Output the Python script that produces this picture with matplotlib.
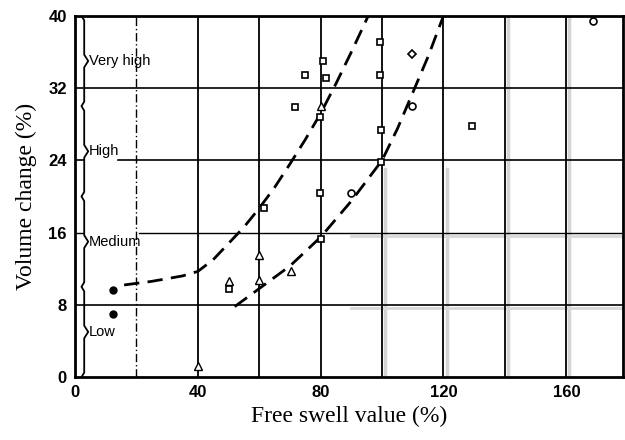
import matplotlib
matplotlib.use("Agg")
import matplotlib.pyplot as plt

# ---- data ----
circles_filled_x = [12.4, 12.4]
circles_filled_y = [9.6, 7.0]

triangles_x = [40, 50, 60, 60, 70.5, 80]
triangles_y = [1.2, 10.6, 13.5, 10.8, 11.7, 30.0]

squares_x = [50, 61.5, 71.7, 75, 80.7, 81.8, 79.8, 79.8, 80, 99.3, 99.3, 99.6, 99.6, 129.3]
squares_y = [9.8, 18.7, 29.9, 33.4, 35.0, 33.1, 28.8, 20.4, 15.3, 37.1, 33.5, 27.4, 23.8, 27.8]

open_circles_x = [89.9, 109.8, 168.7]
open_circles_y = [20.4, 30.0, 39.4]

diamonds_x = [109.8]
diamonds_y = [35.8]

curve1_x = [16, 25, 35, 40, 45, 50, 55, 60, 65, 70, 75, 80, 85, 90, 95.5]
curve1_y = [10.2, 10.6, 11.2, 11.7, 13.0, 14.8, 16.6, 18.7, 21.0, 23.6, 26.3, 29.2, 32.5, 36.0, 40.0]

curve2_x = [52, 60, 70, 80, 90, 100, 105, 110, 115, 120]
curve2_y = [7.8, 9.8, 12.3, 15.5, 19.5, 24.0, 27.5, 31.5, 35.5, 40.0]

x_ticks = [0, 40, 80, 120, 160]
y_ticks = [0, 8, 16, 24, 32, 40]

classes = ["Low", "Medium", "High", "Very high"]
class_bounds = [0, 10, 20, 30, 40]

# ---- figure ----
fig = plt.figure(figsize=(6.25, 4.4), dpi=100)
ax = fig.add_axes([0.12, 0.143, 0.877, 0.821])
ax.set_xlim(0, 178.5)
ax.set_ylim(0, 40)

# scan shadow lines (light gray)
for gx in [101, 121, 141, 161]:
    top = 23 if gx < 130 else 40
    ax.plot([gx, gx], [0, top], color="#d4d4d4", lw=2.5, zorder=0.5)
for gy in [7.6, 15.6]:
    ax.plot([90, 178], [gy, gy], color="#d8d8d8", lw=2, zorder=0.5)

# grid lines
ax.plot([20, 20], [0, 40], color="black", lw=1.0, ls=(0, (6, 2, 1, 2)), zorder=1)
for gx in [40, 60, 80, 100, 120, 140, 160]:
    ax.plot([gx, gx], [0, 40], color="black", lw=1.3, zorder=1)
ax.plot([0, 178.5], [8, 8], color="black", lw=1.2, zorder=1)
ax.plot([21, 178.5], [16, 16], color="black", lw=1.0, zorder=1)
ax.plot([0, 2.5], [16, 16], color="black", lw=1.0, zorder=1)
ax.plot([14, 178.5], [24, 24], color="black", lw=1.2, zorder=1)
ax.plot([0, 2.5], [24, 24], color="black", lw=1.2, zorder=1)
ax.plot([0, 178.5], [32, 32], color="black", lw=1.2, zorder=1)

# braces with class labels
for i, name in enumerate(classes):
    a, b = class_bounds[i], class_bounds[i + 1]
    m = (a + b) / 2
    bx = [2.2, 3.0, 3.0, 4.3, 3.0, 3.0, 2.2]
    by = [a + 0.05, a + 0.5, m - 0.7, m, m + 0.7, b - 0.5, b - 0.05]
    ax.plot(bx, by, color="black", lw=1.3, zorder=2)
    ax.text(4.6, m, name, ha="left", va="center", fontsize=10.5,
            family="Liberation Sans", zorder=3)

# dashed curves
ax.plot(curve1_x, curve1_y, color="black", lw=2.0, ls=(0, (5.5, 3)), zorder=3)
ax.plot(curve2_x, curve2_y, color="black", lw=2.0, ls=(0, (5.5, 3)), zorder=3)

# markers
ax.plot(circles_filled_x, circles_filled_y, "o", color="black", ms=5, zorder=4)
ax.plot(triangles_x, triangles_y, "^", mfc="white", mec="black", mew=1.0, ms=5.5, zorder=4)
ax.plot(squares_x, squares_y, "s", mfc="white", mec="black", mew=1.2, ms=5, zorder=4)
ax.plot(open_circles_x, open_circles_y, "o", mfc="white", mec="black", mew=1.2, ms=5, zorder=4)
ax.plot(diamonds_x, diamonds_y, "D", mfc="white", mec="black", mew=1.2, ms=4.5, zorder=4)

# axes styling
for s in ax.spines.values():
    s.set_linewidth(2.0)
ax.set_xticks(x_ticks)
ax.set_yticks(y_ticks)
ax.tick_params(length=0, pad=6)
for lab in ax.get_xticklabels() + ax.get_yticklabels():
    lab.set_fontfamily("Liberation Sans")
    lab.set_fontweight("bold")
    lab.set_fontsize(12)

ax.set_xlabel("Free swell value (%)", family="Liberation Serif", fontsize=17, labelpad=4)
ax.set_ylabel("Volume change (%)", family="Liberation Serif", fontsize=17, labelpad=8)

fig.savefig("out.png", dpi=100)
